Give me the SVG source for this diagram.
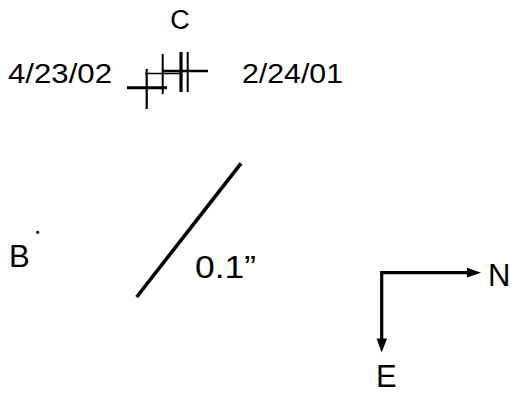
<svg xmlns="http://www.w3.org/2000/svg" width="515" height="395" viewBox="0 0 515 395">
<style>
text{font-family:"Liberation Sans",Arial,sans-serif;fill:#000}
.lbl{font-size:31px}
.date{font-size:27px}
.ln{stroke:#000;fill:none;stroke-linecap:butt}
</style>
<rect width="515" height="395" fill="#fff"/>
<g id="C">
<text x="180" y="29" font-size="27" text-anchor="middle">C</text>
</g>
<g id="date1"><text class="date" x="8" y="83" textLength="104" lengthAdjust="spacingAndGlyphs">4/23/02</text></g>
<g id="date2"><text class="date" x="242" y="83" textLength="101" lengthAdjust="spacingAndGlyphs">2/24/01</text></g>
<g id="crosses">
<line class="ln" x1="127" y1="87.7" x2="167" y2="87.7" stroke-width="3"/>
<line class="ln" x1="146.7" y1="69" x2="146.7" y2="109" stroke-width="2.2"/>
<line class="ln" x1="145" y1="73.5" x2="182" y2="73.5" stroke-width="1.6"/>
<line class="ln" x1="162.7" y1="54" x2="162.7" y2="94" stroke-width="2"/>
<line class="ln" x1="163" y1="71" x2="208" y2="71" stroke-width="2.6"/>
<line class="ln" x1="181" y1="52" x2="181" y2="92" stroke-width="3.2"/>
<line class="ln" x1="187.7" y1="52" x2="187.7" y2="92" stroke-width="2"/>
</g>
<g id="B">
<text class="lbl" x="9" y="267">B</text>
<circle cx="37.7" cy="232.3" r="1.5" fill="#000"/>
</g>
<g id="scale">
<line class="ln" x1="136.7" y1="297" x2="241" y2="163.3" stroke-width="3.6"/>
<text class="lbl" x="195" y="278" font-size="33" textLength="61" lengthAdjust="spacingAndGlyphs">0.1”</text>
</g>
<g id="connectors">
<polyline class="ln" points="470,272.7 381.7,272.7 381.7,341" stroke-width="3.2" stroke-linejoin="miter"/>
<polygon points="467,267.8 481,272.7 467,277.6" fill="#000"/>
<polygon points="376.5,338.5 381.7,352.5 387,338.5" fill="#000"/>
</g>
<g id="N"><text class="lbl" x="488" y="286">N</text></g>
<g id="E"><text class="lbl" x="376" y="387">E</text></g>
</svg>
